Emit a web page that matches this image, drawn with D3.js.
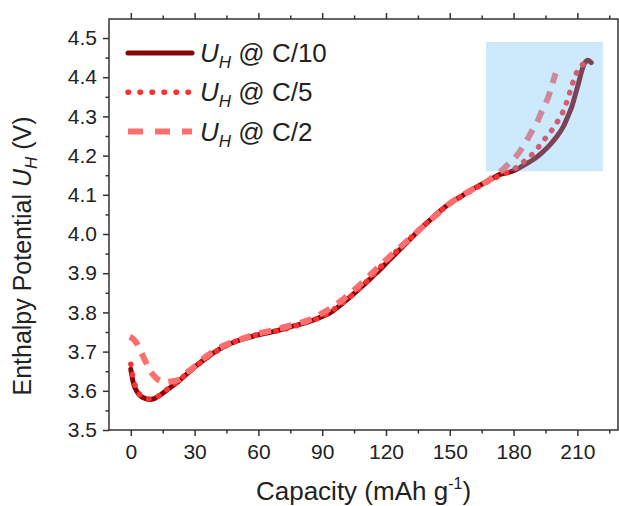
<!DOCTYPE html>
<html>
<head>
<meta charset="utf-8">
<script src="https://cdn.jsdelivr.net/npm/d3@7"></script>
<style>
  body { margin: 0; background: #fff; }
  text { font-family: "Liberation Sans", Arial, sans-serif; fill: #222; }
</style>
</head>
<body>
<div id="chart"></div>
<script>
// U_H at C/10 (solid)
var cap10 = [0, 0.5, 1, 2, 4, 6, 8.4, 11, 14, 17, 22, 29.5, 36, 43.6, 50, 59.3, 67, 75, 82, 88,
             94, 100, 106, 111, 117, 122, 127, 131.4, 136, 140.8, 145, 150, 155, 159.5, 164, 169,
             173.6, 178, 181.5, 185, 189.3, 193, 197.2, 200.5, 203.4, 205.5, 207.4, 209, 210.5,
             212, 213.3, 215, 216.5];
var u10 = [3.655, 3.64, 3.625, 3.607, 3.59, 3.582, 3.578, 3.58, 3.59, 3.602, 3.622, 3.658, 3.686,
           3.712, 3.727, 3.742, 3.751, 3.763, 3.773, 3.785, 3.8, 3.825, 3.853, 3.878, 3.908, 3.936,
           3.963, 3.987, 4.012, 4.036, 4.057, 4.078, 4.095, 4.11, 4.124, 4.138, 4.152, 4.158, 4.165,
           4.176, 4.19, 4.206, 4.228, 4.25, 4.274, 4.3, 4.325, 4.355, 4.384, 4.415, 4.435, 4.443, 4.437];

// U_H at C/5 (dotted)
var cap5 = [0, 0.5, 1.2, 2.5, 4, 6, 8.5, 11, 14, 17, 22, 30, 40, 50, 60, 70, 80, 90, 100, 110,
            120, 130, 140, 150, 160, 170, 178, 182, 186, 190, 194, 198, 201, 203.5, 205.5, 207.5,
            209.5, 212, 214.4];
var u5 = [3.668, 3.65, 3.63, 3.607, 3.592, 3.583, 3.579, 3.581, 3.59, 3.603, 3.624, 3.66, 3.7,
          3.728, 3.744, 3.754, 3.77, 3.79, 3.826, 3.874, 3.93, 3.982, 4.032, 4.077, 4.11, 4.14,
          4.16, 4.172, 4.19, 4.21, 4.238, 4.265, 4.29, 4.315, 4.345, 4.38, 4.41, 4.43, 4.44];

// U_H at C/2 (dashed)
var cap2 = [-0.5, 1, 3, 5, 7, 9, 11, 13, 15.5, 19, 22.5, 26, 30, 36, 44, 52, 60, 68, 76, 84, 90,
            96, 102, 108, 114, 120, 126, 132, 138, 144, 150, 156, 162, 168, 173.6, 178.4, 181.5,
            185, 188.6, 191, 194, 196, 198, 199.8];
var u2 = [3.738, 3.733, 3.72, 3.697, 3.674, 3.652, 3.638, 3.628, 3.623, 3.624, 3.628, 3.645, 3.662,
          3.69, 3.716, 3.732, 3.746, 3.756, 3.768, 3.781, 3.798, 3.818, 3.843, 3.872, 3.903, 3.934,
          3.963, 3.993, 4.022, 4.05, 4.078, 4.099, 4.118, 4.136, 4.158, 4.183, 4.2, 4.228, 4.262,
          4.285, 4.322, 4.345, 4.38, 4.41];

var rates = ["C/10", "C/5", "C/2"];
var xTicks = [0, 30, 60, 90, 120, 150, 180, 210];
var yTicks = [3.5, 3.6, 3.7, 3.8, 3.9, 4.0, 4.1, 4.2, 4.3, 4.4, 4.5];
// highlighted region: capacity range, potential range
var boxCap = [167, 222];
var boxU = [4.16, 4.49];

var dim = {
    width: 619, height: 506,
    margin: { top: 19, right: 1, bottom: 76, left: 109 }
};
dim.plot = {
    width: dim.width - dim.margin.left - dim.margin.right,
    height: dim.height - dim.margin.top - dim.margin.bottom
};

var x = d3.scaleLinear().domain([-10.25, 229.1]).range([0, dim.plot.width]);
var y = d3.scaleLinear().domain([3.5, 4.5485]).range([dim.plot.height, 0]);

var svg = d3.select("#chart").append("svg")
        .attr("width", dim.width)
        .attr("height", dim.height);

var g = svg.append("g")
        .attr("transform", "translate(" + dim.margin.left + "," + dim.margin.top + ")");

var series = [
    { name: rates[0], xs: cap10, ys: u10, color: "#850707", width: 5, dash: null, cap: "round" },
    { name: rates[1], xs: cap5, ys: u5, color: "#ff3030", width: 5.5, dash: "0.5,10", cap: "round" },
    { name: rates[2], xs: cap2, ys: u2, color: "#ff6e6e", width: 6, dash: "12,9", cap: "butt" }
];

var line = d3.line()
        .x(function(d) { return x(d[0]); })
        .y(function(d) { return y(d[1]); })
        .curve(d3.curveCatmullRom.alpha(0.5));

g.selectAll("path.curve").data(series)
    .enter().append("path")
        .attr("class", "curve")
        .attr("d", function(s) { return line(d3.zip(s.xs, s.ys)); })
        .attr("fill", "none")
        .attr("stroke", function(s) { return s.color; })
        .attr("stroke-width", function(s) { return s.width; })
        .attr("stroke-dasharray", function(s) { return s.dash; })
        .attr("stroke-linecap", function(s) { return s.cap; })
        .attr("stroke-linejoin", "round");

// translucent highlight box sits over the curves
g.append("rect")
        .attr("x", x(boxCap[0]))
        .attr("y", y(boxU[1]))
        .attr("width", x(boxCap[1]) - x(boxCap[0]))
        .attr("height", y(boxU[0]) - y(boxU[1]))
        .attr("fill", "#66bff5")
        .attr("fill-opacity", 0.33);

// axes: majors with labels, minors without
var minorX = xTicks.map(function(d) { return d + 15; });
var minorY = yTicks.slice(0, -1).map(function(d) { return d + 0.05; });

function styleAxis(sel) {
    sel.select(".domain").remove();
    sel.selectAll("line").attr("stroke", "#333").attr("stroke-width", 1.5);
    sel.selectAll("text").style("font-size", "21px").attr("fill", "#222");
}

g.append("g")
        .attr("transform", "translate(0," + dim.plot.height + ")")
        .call(d3.axisBottom(x).tickValues(xTicks).tickFormat(d3.format("d")).tickSize(6).tickPadding(8))
        .call(styleAxis);
g.append("g")
        .attr("transform", "translate(0," + dim.plot.height + ")")
        .call(d3.axisBottom(x).tickValues(minorX).tickFormat("").tickSize(3.5))
        .call(styleAxis);
g.append("g")
        .call(d3.axisTop(x).tickValues(xTicks).tickFormat("").tickSize(6))
        .call(styleAxis);
g.append("g")
        .call(d3.axisTop(x).tickValues(minorX).tickFormat("").tickSize(3.5))
        .call(styleAxis);

g.append("g")
        .call(d3.axisLeft(y).tickValues(yTicks).tickFormat(d3.format(".1f")).tickSize(6).tickPadding(6))
        .call(styleAxis);
g.append("g")
        .call(d3.axisLeft(y).tickValues(minorY).tickFormat("").tickSize(3.5))
        .call(styleAxis);

g.append("rect")
        .attr("width", dim.plot.width)
        .attr("height", dim.plot.height)
        .attr("fill", "none")
        .attr("stroke", "#333")
        .attr("stroke-width", 1.5);

// legend
var legend = g.selectAll("g.legend").data(series)
    .enter().append("g")
        .attr("class", "legend")
        .attr("transform", function(s, i) { return "translate(19," + (34 + i * 39.3) + ")"; });

legend.append("line")
        .attr("x1", 0).attr("x2", 64)
        .attr("stroke", function(s) { return s.color; })
        .attr("stroke-width", function(s) { return s.width; })
        .attr("stroke-dasharray", function(s) { return s.dash ? (s.cap === "round" ? "0.5,11.5" : "15,12") : null; })
        .attr("stroke-linecap", function(s) { return s.cap; });

var lt = legend.append("text")
        .attr("x", 72)
        .attr("y", 9)
        .style("font-size", "26px");
lt.append("tspan").style("font-style", "italic").text("U");
lt.append("tspan").style("font-style", "italic").style("font-size", "17px").attr("dy", 6).text("H");
lt.append("tspan").attr("dy", -6).text(function(s) { return " @ " + s.name; });

// axis titles
var xt = svg.append("text")
        .attr("x", dim.margin.left + dim.plot.width / 2)
        .attr("y", 500)
        .attr("text-anchor", "middle")
        .style("font-size", "26px");
xt.append("tspan").text("Capacity (mAh g");
xt.append("tspan").style("font-size", "16px").attr("dy", -11).text("-1");
xt.append("tspan").attr("dy", 11).text(")");

var yt = svg.append("text")
        .attr("transform", "translate(31,256) rotate(-90)")
        .attr("text-anchor", "middle")
        .style("font-size", "25px");
yt.append("tspan").text("Enthalpy Potential ");
yt.append("tspan").style("font-style", "italic").text("U");
yt.append("tspan").style("font-style", "italic").style("font-size", "17px").attr("dy", 6).text("H");
yt.append("tspan").attr("dy", -6).text(" (V)");
</script>
</body>
</html>
